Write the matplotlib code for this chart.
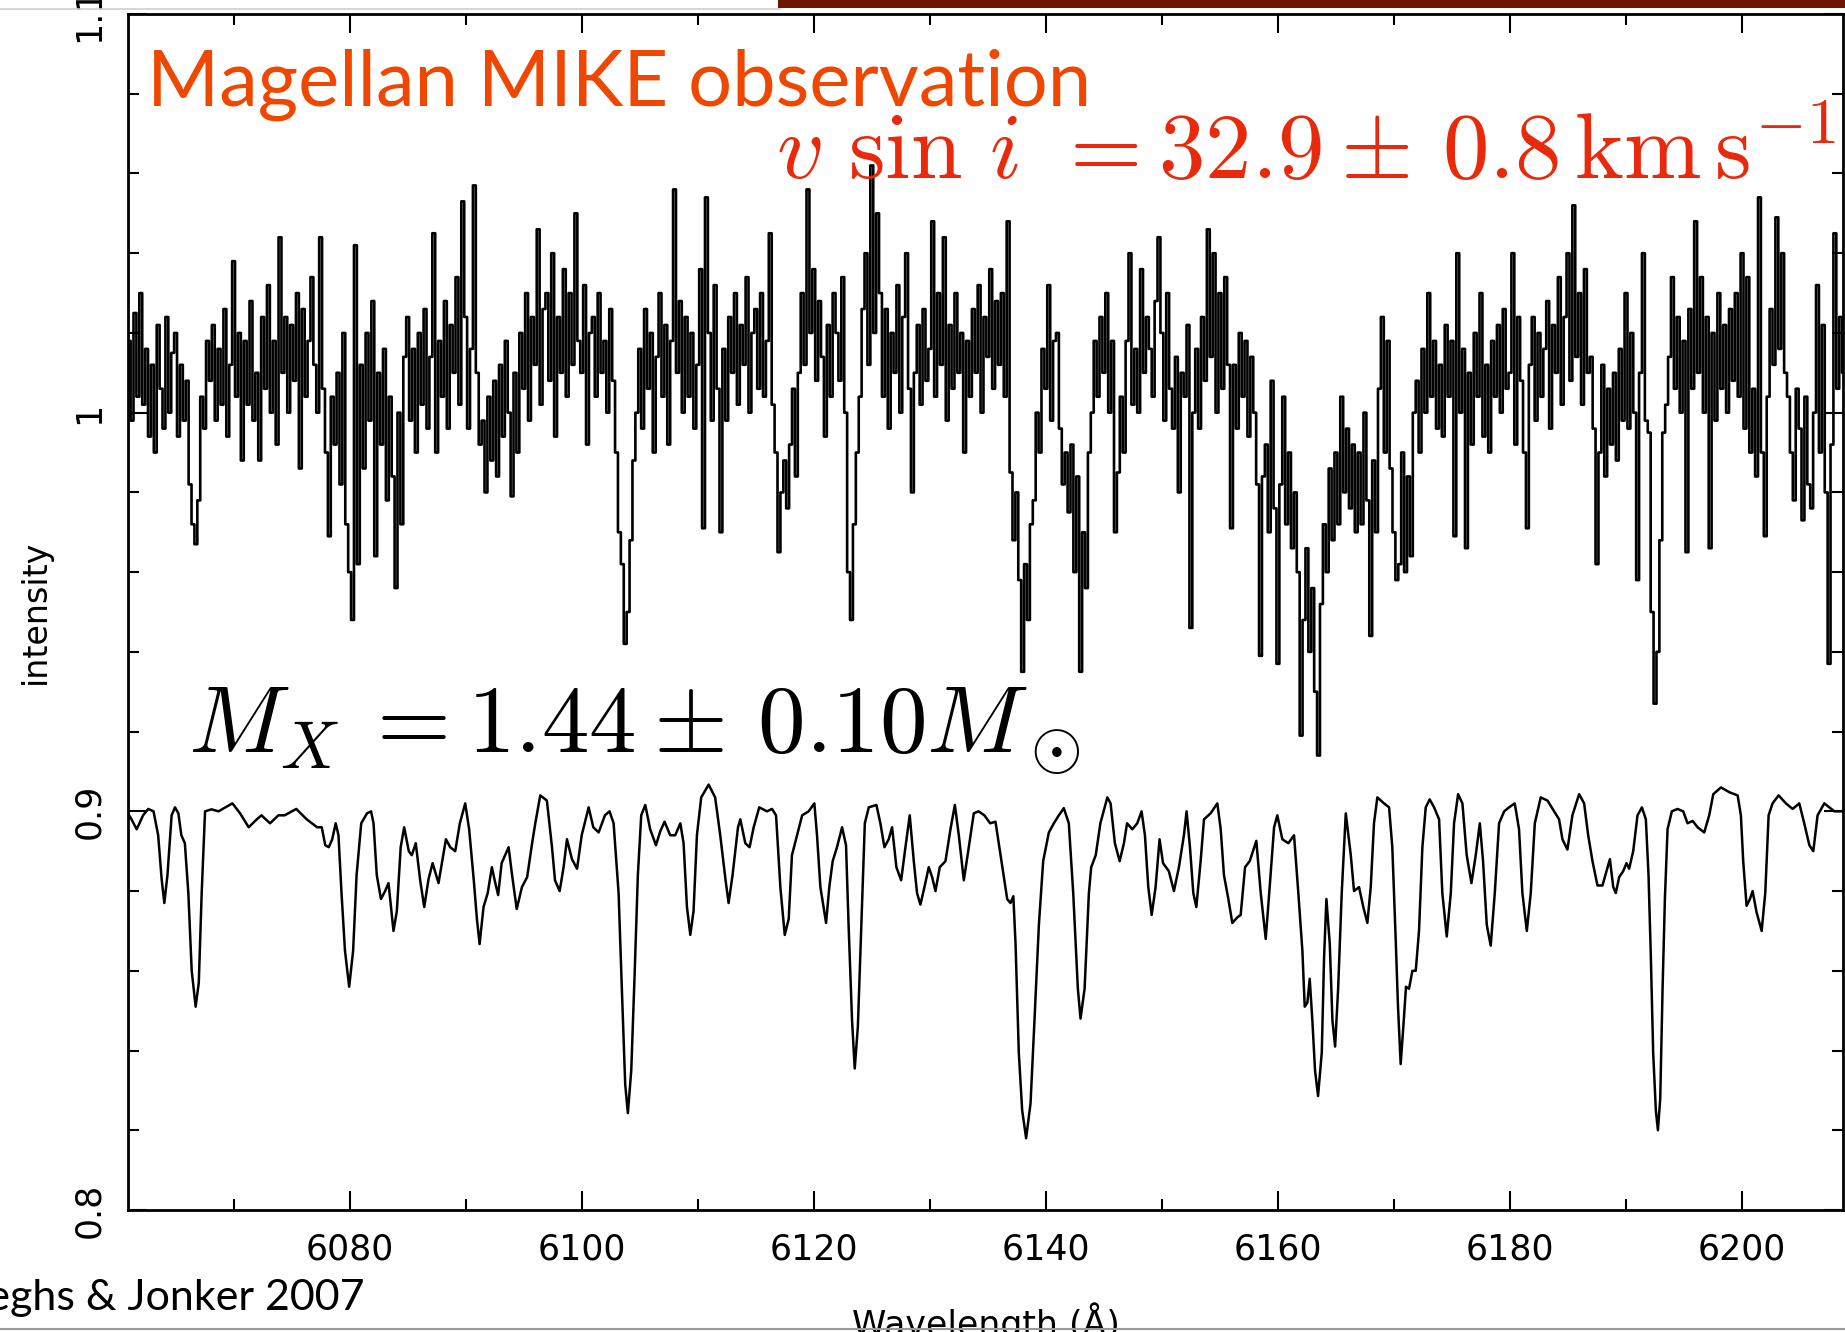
""" =======================  Import dependencies ========================== """
import numpy as np
from matplotlib import pyplot as plt
from matplotlib.patches import Rectangle
from matplotlib.lines import Line2D

""" =======================  Data read off the figure ======================= """
# synthetic (broadened template) spectrum, knots (wavelength A, intensity)
model_wl = [6060.9, 6061.2, 6061.65, 6062.2, 6062.65, 6063.1, 6063.5, 6063.8, 6064.03, 6064.3,
            6064.66, 6064.95, 6065.24, 6065.5, 6065.8, 6066.1, 6066.39, 6066.73, 6067.0, 6067.25,
            6067.54, 6068.1, 6068.7, 6069.3, 6069.9, 6070.56, 6071.3, 6072.0, 6072.4, 6073.14,
            6073.86, 6074.4, 6075.4, 6076.3, 6077.2, 6077.6, 6077.9, 6078.2, 6078.5, 6078.8,
            6079.04, 6079.3, 6079.6, 6079.96, 6080.3, 6080.6, 6081.0, 6081.5, 6081.85,
            6082.06, 6082.34, 6082.7, 6083.06, 6083.35, 6083.78, 6084.07, 6084.4, 6084.7, 6085.1,
            6085.36, 6085.7, 6086.08, 6086.43, 6086.8, 6087.15, 6087.66, 6087.95, 6088.3, 6088.67,
            6089.1, 6089.5, 6089.96, 6090.3, 6090.7, 6090.97, 6091.2, 6091.54, 6091.9, 6092.26,
            6092.5, 6092.8, 6093.1, 6093.7, 6094.0, 6094.4, 6094.85, 6095.3, 6095.7, 6096.0,
            6096.43, 6097.0, 6097.44, 6097.7, 6098.1, 6098.44, 6098.73, 6099.16, 6099.6, 6100.0,
            6100.6, 6101.0, 6101.46, 6102.0, 6102.4, 6102.75,
            6103.18, 6103.46, 6103.75, 6103.98, 6104.27, 6104.56, 6104.84, 6105.13, 6105.48, 6105.9,
            6106.4, 6106.77, 6107.14, 6107.63, 6108.06, 6108.5, 6108.78, 6109.07, 6109.36, 6109.64,
            6109.93, 6110.3, 6110.94, 6111.5, 6111.94, 6112.4, 6112.66, 6113.0, 6113.47, 6113.67,
            6114.1, 6114.47, 6114.82, 6115.3, 6115.97, 6116.4, 6116.75, 6117.12, 6117.5, 6117.84,
            6118.12, 6118.56, 6119.0, 6119.56, 6120.05, 6120.28, 6120.57, 6121.06, 6121.34, 6121.63,
            6122.0, 6122.44, 6122.78, 6123.0, 6123.3, 6123.53, 6123.8, 6124.1,
            6124.4, 6124.74, 6125.4, 6125.74, 6126.09, 6126.46, 6126.75, 6127.12, 6127.53, 6127.9,
            6128.27, 6128.62, 6128.9, 6129.19, 6129.54, 6129.91, 6130.2, 6130.49, 6130.86, 6131.35,
            6131.78, 6132.16, 6132.5, 6132.93, 6133.36, 6133.79, 6134.2, 6134.7, 6135.2, 6135.66,
            6136.1, 6136.67, 6136.95, 6137.2, 6137.39, 6137.67, 6137.96, 6138.3, 6138.68, 6139.02,
            6139.4, 6139.77, 6140.26, 6140.69, 6141.12, 6141.55, 6141.98, 6142.36, 6142.76, 6142.99,
            6143.34, 6143.71, 6143.91, 6144.3, 6144.7, 6145.3,
            6145.58, 6145.95, 6146.36, 6146.73, 6147.0, 6147.45, 6147.88, 6148.25, 6148.54, 6148.83,
            6149.12, 6149.46, 6149.8, 6150.1, 6150.6, 6151.04, 6151.47, 6151.9, 6152.13, 6152.42,
            6152.71, 6152.97, 6153.34, 6153.63, 6154.2, 6154.78, 6155.07, 6155.35, 6155.73, 6156.07,
            6156.5, 6156.79, 6157.17, 6157.57, 6158.14, 6158.52, 6158.95, 6159.29, 6159.67, 6159.95,
            6160.38, 6160.9, 6161.39, 6161.76, 6162.11, 6162.31, 6162.54, 6162.74, 6162.97, 6163.2,
            6163.46, 6163.78, 6163.98, 6164.18, 6164.47, 6164.7, 6164.93, 6165.19, 6165.5, 6165.85,
            6166.28, 6166.56, 6166.99, 6167.36, 6167.71, 6168.0, 6168.28, 6168.57, 6169.14, 6169.58,
            6169.86, 6170.15, 6170.35, 6170.58, 6170.81, 6171.04, 6171.3, 6171.59, 6171.88, 6172.16,
            6172.45, 6172.74, 6173.08, 6173.46, 6173.89, 6174.17, 6174.55, 6174.9, 6175.18, 6175.53,
            6175.9, 6176.27, 6176.68, 6177.05, 6177.4, 6177.68, 6178.0, 6178.34, 6178.69, 6179.06,
            6179.5, 6179.92, 6180.41, 6180.78, 6181.07, 6181.45, 6181.79, 6182.14, 6182.65, 6183.23,
            6183.8, 6184.23, 6184.52, 6184.95, 6185.38, 6185.96, 6186.39, 6186.74, 6187.11, 6187.54,
            6187.97, 6188.32, 6188.61, 6188.9, 6189.12, 6189.41, 6189.76, 6190.04, 6190.27, 6190.62,
            6190.99, 6191.37, 6191.71, 6191.94, 6192.14, 6192.34, 6192.57, 6192.75, 6192.95, 6193.15,
            6193.35, 6193.58, 6193.95, 6194.44, 6194.93, 6195.3, 6195.74, 6196.17, 6196.74, 6197.17,
            6197.52, 6198.18, 6198.9, 6199.62, 6199.9, 6200.1, 6200.39, 6200.68, 6200.91, 6201.25,
            6201.69, 6202.0, 6202.29, 6202.63, 6203.15, 6203.78, 6204.36, 6204.93, 6205.36, 6205.8,
            6206.14, 6206.51, 6207.09, 6207.52, 6207.95, 6208.67]
model_flux = [0.8995, 0.898, 0.8955, 0.899, 0.9006, 0.900, 0.894, 0.883, 0.877, 0.884,
              0.899, 0.901, 0.8995, 0.894, 0.892, 0.8795, 0.860, 0.851, 0.857, 0.8795,
              0.900, 0.9005, 0.900, 0.901, 0.902, 0.8995, 0.896, 0.898, 0.899, 0.897,
              0.899, 0.899, 0.9006, 0.898, 0.896, 0.896, 0.8915, 0.891, 0.893, 0.897,
              0.894, 0.8795, 0.865, 0.856, 0.865, 0.884, 0.897, 0.8995, 0.900,
              0.897, 0.884, 0.878, 0.880, 0.882, 0.870, 0.875, 0.891, 0.896, 0.890,
              0.889, 0.892, 0.8827, 0.876, 0.883, 0.887, 0.882, 0.887, 0.893, 0.891,
              0.890, 0.897, 0.902, 0.8955, 0.8827, 0.873, 0.8667, 0.876, 0.8795, 0.886,
              0.8827, 0.879, 0.887, 0.891, 0.884, 0.8755, 0.881, 0.8835, 0.8915, 0.897,
              0.904, 0.9027, 0.891, 0.8827, 0.880, 0.886, 0.893, 0.888, 0.8856, 0.894,
              0.901, 0.896, 0.8947, 0.899, 0.900, 0.897,
              0.8795, 0.8555, 0.8315, 0.8243, 0.835, 0.859, 0.884, 0.899, 0.9016, 0.8955,
              0.8915, 0.895, 0.8974, 0.894, 0.894, 0.897, 0.892, 0.876, 0.869, 0.875,
              0.894, 0.9035, 0.9067, 0.9035, 0.894, 0.8827, 0.877, 0.884, 0.896, 0.898,
              0.892, 0.891, 0.896, 0.901, 0.900, 0.9006, 0.899, 0.881, 0.869, 0.873,
              0.889, 0.894, 0.899, 0.900, 0.902, 0.894, 0.881, 0.872, 0.881, 0.8875,
              0.891, 0.896, 0.8915, 0.8715, 0.8475, 0.8355, 0.846, 0.8715,
              0.897, 0.901, 0.9016, 0.897, 0.891, 0.893, 0.896, 0.886, 0.8827, 0.891,
              0.899, 0.8875, 0.8795, 0.8766, 0.881, 0.886, 0.8835, 0.880, 0.886, 0.8875,
              0.8955, 0.9016, 0.894, 0.8827, 0.891, 0.8995, 0.900, 0.899, 0.897, 0.8974,
              0.889, 0.878, 0.877, 0.8787, 0.8667, 0.8395, 0.825, 0.818, 0.8267, 0.8475,
              0.8715, 0.8875, 0.8947, 0.897, 0.899, 0.9008, 0.897, 0.8795, 0.8555, 0.848,
              0.8555, 0.8795, 0.886, 0.889, 0.897, 0.9035,
              0.902, 0.892, 0.8875, 0.892, 0.897, 0.8955, 0.897, 0.900, 0.894, 0.881,
              0.874, 0.881, 0.893, 0.887, 0.885, 0.880, 0.886, 0.894, 0.900, 0.891,
              0.8795, 0.876, 0.8875, 0.898, 0.8995, 0.902, 0.8955, 0.884, 0.878, 0.872,
              0.8734, 0.874, 0.886, 0.8875, 0.8926, 0.8795, 0.868, 0.881, 0.896, 0.899,
              0.893, 0.892, 0.894, 0.8795, 0.865, 0.851, 0.852, 0.858, 0.8475, 0.835,
              0.8286, 0.8395, 0.8635, 0.878, 0.8667, 0.8475, 0.841, 0.8555, 0.8795, 0.8995,
              0.889, 0.880, 0.881, 0.876, 0.872, 0.881, 0.897, 0.9035, 0.902, 0.901,
              0.891, 0.868, 0.851, 0.8366, 0.846, 0.856, 0.8555, 0.860, 0.860, 0.870,
              0.891, 0.901, 0.903, 0.901, 0.898, 0.8795, 0.8686, 0.8795, 0.897, 0.9043,
              0.902, 0.889, 0.882, 0.889, 0.897, 0.8875, 0.8715, 0.8663, 0.8795, 0.897,
              0.900, 0.901, 0.902, 0.8955, 0.8795, 0.870, 0.8795, 0.897, 0.9035, 0.9027,
              0.900, 0.898, 0.893, 0.8904, 0.899, 0.9043, 0.902, 0.894, 0.8875, 0.8814,
              0.8814, 0.885, 0.888, 0.881, 0.8795, 0.8835, 0.885, 0.887, 0.8856, 0.890,
              0.899, 0.901, 0.898, 0.884, 0.8635, 0.8395, 0.825, 0.820, 0.828, 0.8555,
              0.878, 0.8955, 0.900, 0.9006, 0.900, 0.897, 0.8976, 0.896, 0.8947, 0.899,
              0.9043, 0.906, 0.9048, 0.904, 0.899, 0.8875, 0.8763, 0.878, 0.880, 0.8747,
              0.870, 0.8795, 0.899, 0.902, 0.904, 0.902, 0.9006, 0.902, 0.897, 0.8915,
              0.890, 0.899, 0.902, 0.901, 0.900, 0.900]

# observed MIKE spectrum, 0.25 A bins from 6061.0 A (two angstrom per row)
obs_start = 6061.0
obs_step = 0.25
obs_flux = [
    1.018, 0.998, 1.025, 1.004, 1.030, 1.002, 1.016, 0.994,   # 6061
    1.012, 0.990, 1.022, 1.006, 0.996, 1.024, 1.000, 1.015,   # 6063
    1.020, 0.994, 1.012, 0.998, 1.008, 0.982, 0.972, 0.967,   # 6065
    0.978, 1.004, 0.996, 1.018, 1.008, 1.022, 0.998, 1.016,   # 6067
    1.002, 1.026, 0.994, 1.012, 1.038, 1.004, 1.020, 0.988,   # 6069
    1.018, 1.002, 1.028, 0.998, 1.010, 0.988, 1.024, 1.006,   # 6071
    1.032, 1.000, 1.018, 0.992, 1.044, 1.010, 1.024, 1.000,   # 6073
    1.022, 1.008, 1.030, 0.986, 1.026, 1.004, 1.018, 1.034,   # 6075
    1.012, 1.000, 1.044, 1.006, 0.990, 0.969, 1.004, 0.992,   # 6077
    1.010, 0.982, 1.020, 0.972, 0.960, 0.948, 1.042, 0.962,   # 6079
    1.012, 0.986, 1.020, 0.998, 1.028, 0.964, 1.010, 0.992,   # 6081
    1.016, 0.978, 1.004, 0.984, 0.956, 1.000, 0.972, 1.014,   # 6083
    1.024, 0.998, 1.016, 0.990, 1.020, 1.002, 1.026, 0.996,   # 6085
    1.014, 1.045, 0.990, 1.018, 1.004, 1.028, 0.996, 1.022,   # 6087
    1.010, 1.034, 1.002, 1.053, 1.024, 0.996, 1.016, 1.057,   # 6089
    1.010, 0.992, 0.998, 0.980, 1.004, 0.988, 1.008, 0.984,   # 6091
    1.012, 0.994, 1.018, 1.000, 0.979, 1.010, 0.990, 1.020,   # 6093
    1.006, 1.030, 0.998, 1.024, 1.012, 1.046, 1.002, 1.026,   # 6095
    1.030, 1.008, 1.040, 0.994, 1.024, 1.010, 1.036, 1.004,   # 6097
    1.030, 1.012, 1.050, 1.018, 1.010, 1.032, 0.992, 1.020,   # 6099
    1.024, 1.004, 1.030, 1.010, 1.018, 1.000, 1.026, 1.008,   # 6101
    0.990, 0.970, 0.962, 0.942, 0.950, 0.968, 0.988, 1.000,   # 6103
    1.016, 0.996, 1.026, 1.006, 1.020, 0.990, 1.014, 1.030,   # 6105
    1.004, 1.022, 0.992, 1.018, 1.056, 1.010, 1.028, 1.000,   # 6107
    1.024, 1.004, 1.020, 0.996, 1.012, 1.036, 0.971, 1.054,   # 6109
    1.020, 0.998, 1.032, 1.006, 0.970, 1.016, 0.998, 1.024,   # 6111
    1.010, 1.030, 1.002, 1.022, 1.012, 1.034, 1.000, 1.020,   # 6113
    1.026, 1.006, 1.030, 1.004, 1.018, 1.045, 1.002, 0.990,   # 6115
    0.965, 0.980, 0.988, 0.976, 0.992, 1.006, 0.984, 1.010,   # 6117
    1.030, 1.012, 1.056, 1.020, 1.036, 1.008, 1.028, 1.014,   # 6119
    0.994, 1.022, 1.004, 1.030, 1.020, 1.008, 1.034, 1.000,   # 6121
    0.960, 0.948, 0.972, 0.990, 1.004, 1.026, 1.040, 1.012,   # 6123
    1.062, 1.020, 1.050, 1.030, 1.004, 1.026, 0.996, 1.020,   # 6125
    1.010, 1.032, 1.000, 1.024, 1.040, 1.006, 0.980, 1.010,   # 6127
    1.022, 1.002, 1.026, 1.008, 1.016, 1.048, 1.004, 1.030,   # 6129
    1.012, 1.044, 0.998, 1.022, 1.006, 1.030, 1.010, 1.020,   # 6131
    0.990, 1.018, 1.004, 1.026, 1.010, 1.032, 1.000, 1.024,   # 6133
    1.014, 1.036, 1.006, 1.028, 1.012, 1.030, 1.004, 1.048,   # 6135
    0.985, 0.968, 0.980, 0.958, 0.935, 0.962, 0.948, 0.972,   # 6137
    0.978, 1.000, 0.990, 1.016, 1.006, 1.032, 0.998, 1.018,   # 6139
    1.020, 0.996, 0.982, 0.990, 0.975, 0.992, 0.960, 0.984,   # 6141
    0.935, 0.970, 0.956, 0.990, 1.000, 1.018, 1.004, 1.024,   # 6143
    1.010, 1.030, 1.000, 1.018, 0.970, 0.985, 1.004, 0.990,   # 6145
    1.018, 1.040, 1.002, 1.016, 1.000, 1.036, 1.010, 1.024,   # 6147
    1.016, 1.004, 1.028, 1.044, 1.020, 0.998, 1.030, 1.006,   # 6149
    0.996, 1.014, 0.980, 1.010, 1.004, 1.022, 0.946, 1.000,   # 6151
    1.016, 0.996, 1.024, 1.008, 1.046, 1.014, 1.040, 1.000,   # 6153
    1.030, 1.006, 1.034, 1.012, 0.971, 1.012, 0.996, 1.020,   # 6155
    1.004, 1.018, 0.994, 1.014, 1.000, 0.982, 0.939, 0.984,   # 6157
    0.992, 0.970, 1.008, 0.976, 0.937, 0.982, 1.004, 0.972,   # 6159
    0.990, 0.966, 0.980, 0.960, 0.919, 0.948, 0.966, 0.940,   # 6161
    0.956, 0.930, 0.914, 0.952, 0.972, 0.960, 0.986, 0.968,   # 6163
    0.990, 0.972, 1.004, 0.980, 0.996, 0.976, 0.992, 0.970,   # 6165
    0.990, 0.972, 1.000, 0.978, 0.944, 0.988, 0.970, 1.006,   # 6167
    1.024, 0.990, 1.018, 0.986, 0.970, 0.958, 0.962, 0.990,   # 6169
    0.960, 0.984, 0.964, 1.000, 1.008, 0.990, 1.016, 1.000,   # 6171
    1.030, 1.004, 1.018, 0.996, 1.012, 0.994, 1.022, 1.004,   # 6173
    1.018, 0.969, 1.040, 1.000, 1.016, 0.966, 1.010, 0.992,   # 6175
    1.020, 1.004, 1.030, 0.994, 1.012, 0.990, 1.018, 1.004,   # 6177
    1.022, 1.000, 1.026, 1.006, 1.010, 1.040, 0.992, 1.024,   # 6179
    1.008, 0.990, 0.971, 1.012, 1.024, 0.998, 1.020, 1.004,   # 6181
    1.016, 1.028, 0.996, 1.022, 1.010, 1.034, 1.002, 1.024,   # 6183
    1.040, 1.008, 1.052, 1.014, 1.030, 1.002, 1.036, 1.010,   # 6185
    1.014, 0.996, 0.962, 0.990, 1.012, 0.984, 1.006, 0.992,   # 6187
    1.010, 0.988, 1.016, 0.998, 1.030, 0.996, 1.020, 1.000,   # 6189
    0.958, 1.010, 1.040, 0.998, 0.995, 0.950, 0.927, 0.940,   # 6191
    0.968, 0.995, 1.002, 1.014, 1.034, 1.006, 1.024, 1.000,   # 6193
    1.018, 0.965, 1.026, 1.006, 1.048, 1.010, 1.034, 1.000,   # 6195
    1.024, 0.966, 1.020, 0.998, 1.030, 1.006, 1.022, 1.000,   # 6197
    1.026, 1.008, 1.030, 1.004, 1.040, 0.996, 1.034, 0.990,   # 6199
    1.006, 0.984, 1.054, 0.990, 0.969, 1.004, 1.026, 1.012,   # 6201
    1.049, 1.016, 1.040, 1.010, 1.004, 0.990, 0.978, 1.006,   # 6203
    0.996, 0.973, 1.004, 0.982, 0.976, 1.000, 1.032, 0.990,   # 6205
    1.022, 0.980, 0.937, 0.992, 1.045, 1.006, 1.024, 1.010,   # 6207
]

x_ticks = [6080, 6100, 6120, 6140, 6160, 6180, 6200]
y_ticks = [0.8, 0.9, 1.0, 1.1]
y_tick_labels = ['0.8', '0.9', '1', '1.1']

""" =======================  Figure ======================= """
plt.rcParams['mathtext.fontset'] = 'cm'
plt.rcParams['font.family'] = ['DejaVu Sans']

W, H = 1845, 1332
fig = plt.figure(figsize=(W / 100, H / 100), dpi=100)
ax = fig.add_axes([128 / W, 1 - 1210 / H, (1843 - 128) / W, (1210 - 14) / H])

obs_wl = obs_start + obs_step * np.arange(len(obs_flux))
ax.plot(obs_wl, obs_flux, color='black', lw=1.9, drawstyle='steps-mid')
ax.plot(model_wl, model_flux, color='black', lw=1.8)

ax.set_xlim(6060.9, 6208.7)
ax.set_ylim(0.8, 1.1)
ax.set_xticks(x_ticks)
ax.set_xticks(np.arange(6070, 6210, 10), minor=True)
ax.set_yticks(y_ticks)
ax.set_yticklabels(y_tick_labels, rotation=90, va='center')
ax.set_yticks(np.arange(0.82, 1.1, 0.02), minor=True)

ax.tick_params(which='both', direction='in', top=True, right=True, width=1.5, labelsize=25)
ax.tick_params(which='major', length=14)
ax.tick_params(which='minor', length=8)
ax.tick_params(axis='x', pad=16)
ax.tick_params(axis='y', pad=16)
for s in ax.spines.values():
    s.set_linewidth(2)

ax.set_xlabel('Wavelength (Å)', fontsize=25)
ax.xaxis.set_label_coords(0.5, -0.077)
ax.set_ylabel('intensity', fontsize=24, va='center')
ax.yaxis.set_label_coords(-0.054, 0.5)

""" =======================  Annotations ======================= """
fig.text(147 / W, 1 - 106 / H, 'Magellan MIKE observation', color='#EF4600',
         fontsize=56, family=['Lato', 'DejaVu Sans'], ha='left', va='baseline')
fig.text(1836 / W, 1 - 179 / H,
         r'$v\,\,\sin\,i\:\,=32.9\pm\,0.8\,\mathrm{km}\,\mathrm{s}^{-1}$',
         color='#E8290B', fontsize=67, ha='right', va='baseline')
fig.text(188 / W, 1 - 753 / H, r'$M_X\:=1.44\pm\,0.10M_\odot$',
         color='black', fontsize=68.5, ha='left', va='baseline')
fig.text(365 / W, 1 - 1310 / H, 'Steeghs & Jonker 2007', color='black',
         fontsize=31, family=['Lato', 'DejaVu Sans'], ha='right', va='baseline')

# slide frame bits
fig.add_artist(Line2D([0, 780 / W], [1 - 9 / H, 1 - 9 / H], transform=fig.transFigure,
                      color='#cfcfcf', lw=1.2))
fig.add_artist(Rectangle((778 / W, 1 - 8 / H), 1 - 778 / W, 8 / H, transform=fig.transFigure,
                         color='#6E1600', lw=0))
fig.add_artist(Line2D([0, 1], [1 - 1329 / H, 1 - 1329 / H], transform=fig.transFigure,
                      color='#9a9a9a', lw=1.5))

plt.savefig('out.png', dpi=100)
